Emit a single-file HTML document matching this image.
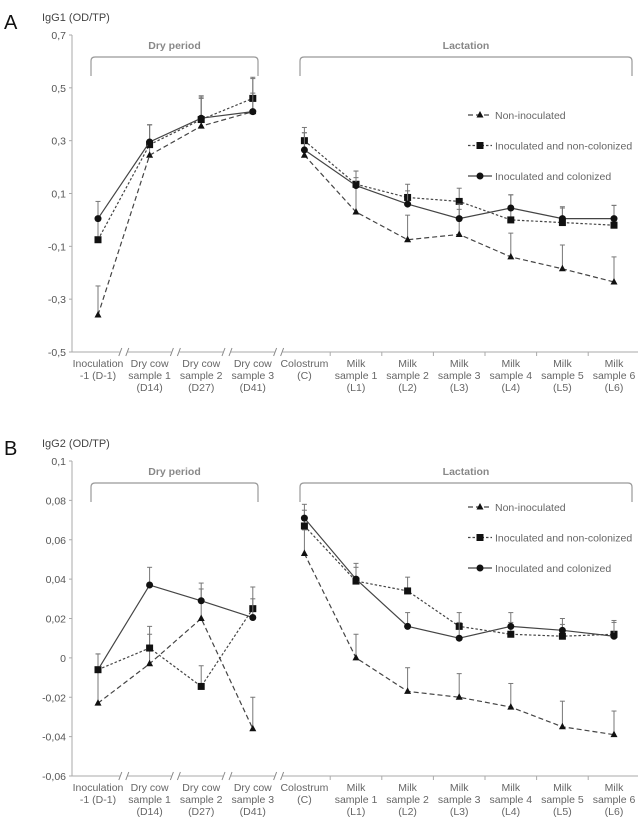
<!DOCTYPE html>
<html><head><meta charset="utf-8">
<style>
body{margin:0;background:#fff;}
svg{display:block;font-family:"Liberation Sans",sans-serif;}
</style></head>
<body>
<svg id="chart" width="644" height="822" viewBox="0 0 644 822"></svg>
<script>
const categories = [["Inoculation","-1 (D-1)"],["Dry cow","sample 1","(D14)"],["Dry cow","sample 2","(D27)"],["Dry cow","sample 3","(D41)"],["Colostrum","(C)"],["Milk","sample 1","(L1)"],["Milk","sample 2","(L2)"],["Milk","sample 3","(L3)"],["Milk","sample 4","(L4)"],["Milk","sample 5","(L5)"],["Milk","sample 6","(L6)"]];
const seriesNames = ["Non-inoculated","Inoculated and non-colonized","Inoculated and colonized"];
// Panel A (IgG1)
const aTicks = [0.7,0.5,0.3,0.1,-0.1,-0.3,-0.5];
const aTickLabels = ["0,7","0,5","0,3","0,1","-0,1","-0,3","-0,5"];
const aNonInoc = [-0.36,0.245,0.355,0.41,0.245,0.03,-0.075,-0.055,-0.14,-0.185,-0.235];
const aNonInocTop = [-0.25,0.36,0.46,0.535,0.33,0.185,0.018,0.04,-0.05,-0.095,-0.14];
const aNonCol = [-0.075,0.285,0.38,0.46,0.30,0.135,0.085,0.07,0.0,-0.01,-0.02];
const aNonColTop = [0.005,0.36,0.465,0.54,0.35,0.185,0.135,0.12,0.095,0.05,0.055];
const aCol = [0.005,0.295,0.385,0.41,0.265,0.13,0.06,0.005,0.045,0.005,0.005];
const aColTop = [0.07,0.36,0.47,0.48,0.33,0.16,0.11,0.06,0.095,0.045,0.055];
// Panel B (IgG2)
const bTicks = [0.1,0.08,0.06,0.04,0.02,0,-0.02,-0.04,-0.06];
const bTickLabels = ["0,1","0,08","0,06","0,04","0,02","0","-0,02","-0,04","-0,06"];
const bNonInoc = [-0.023,-0.003,0.02,-0.036,0.053,0.0,-0.017,-0.02,-0.025,-0.035,-0.039];
const bNonInocTop = [-0.006,0.012,0.035,-0.02,0.065,0.012,-0.005,-0.008,-0.013,-0.022,-0.027];
const bNonCol = [-0.006,0.005,-0.0145,0.025,0.067,0.039,0.034,0.016,0.012,0.011,0.012];
const bNonColTop = [0.002,0.016,-0.004,0.036,0.075,0.046,0.041,0.023,0.018,0.017,0.018];
const bCol = [-0.006,0.037,0.029,0.0205,0.071,0.040,0.016,0.010,0.016,0.014,0.011];
const bColTop = [0.002,0.046,0.038,0.030,0.078,0.048,0.023,0.018,0.023,0.020,0.019];

const NS="http://www.w3.org/2000/svg";
const svg=document.getElementById('chart');
function mk(tag,attrs,parent,text){const e=document.createElementNS(NS,tag);for(const k in attrs)e.setAttribute(k,attrs[k]);if(text!==undefined)e.textContent=text;(parent||svg).appendChild(e);return e;}

function xPos(i){return 98+i*51.6;}

function panel(cfg){
  const g=mk('g',{});
  
  
  const yMax=cfg.ticks[0], yMin=cfg.ticks[cfg.ticks.length-1];
  const y=v=>cfg.top+(yMax-v)/(yMax-yMin)*(cfg.bottom-cfg.top);
  let t=mk('text',{x:4,y:cfg.top-6,'font-size':20,fill:'#111'},g,cfg.letter);
  
  
  t=mk('text',{x:42,y:cfg.top-14,'font-size':11,fill:'#444'},g,cfg.title);
  
  
  mk('line',{x1:72,y1:cfg.top,x2:72,y2:cfg.bottom,stroke:'#aaa'},g);
  cfg.ticks.forEach((v,i)=>{
    mk('line',{x1:69,y1:y(v),x2:72,y2:y(v),stroke:'#aaa'},g);
    const l=mk('text',{x:66,y:y(v)+4,'font-size':10.5,fill:'#555','text-anchor':'end'},g,cfg.tickLabels[i]);
    
    
  });
  mk('line',{x1:72,y1:cfg.bottom,x2:638,y2:cfg.bottom,stroke:'#aaa'},g);
  for(let i=0;i<=10;i++){
    const bx=xPos(i)+25.8;
    if(i<4){
      mk('rect',{x:bx-4,y:cfg.bottom-4,width:8,height:8,fill:'#fff'},g);
      mk('line',{x1:bx-5,y1:cfg.bottom+4,x2:bx-2,y2:cfg.bottom-4,stroke:'#888'},g);
      mk('line',{x1:bx+2,y1:cfg.bottom+4,x2:bx+5,y2:cfg.bottom-4,stroke:'#888'},g);
    } else if(i<10){
      mk('line',{x1:bx,y1:cfg.bottom,x2:bx,y2:cfg.bottom+4,stroke:'#aaa'},g);
    }
  }
  categories.forEach((c,i)=>{
    c.forEach((s,j)=>{
      const l=mk('text',{x:xPos(i),y:cfg.bottom+15+j*12,'font-size':10.5,fill:'#666','text-anchor':'middle'},g,s);
      
      
    });
  });
  [[91,258,'Dry period'],[300,632,'Lactation']].forEach(b=>{
    const by=cfg.top+22;
    mk('path',{d:`M${b[0]} ${by+19} V${by+4} Q${b[0]} ${by} ${b[0]+4} ${by} H${b[1]-4} Q${b[1]} ${by} ${b[1]} ${by+4} V${by+19}`,fill:'none',stroke:'#999','stroke-width':1.2},g);
    const l=mk('text',{x:(b[0]+b[1])/2,y:by-8,'font-size':10.5,'font-weight':'bold',fill:'#888','text-anchor':'middle'},g,b[2]);
    
    
  });
  const styles=[{dash:'5,3',m:'tri'},{dash:'2.5,2',m:'sq'},{dash:'',m:'dot'}];
  function marker(kind,cx,cy,parent){
    if(kind==='tri')return mk('path',{d:`M${cx} ${cy-4} L${cx+3.5} ${cy+2.5} L${cx-3.5} ${cy+2.5}Z`,fill:'#111'},parent);
    if(kind==='sq')return mk('rect',{x:cx-3.5,y:cy-3.5,width:7,height:7,fill:'#111'},parent);
    return mk('circle',{cx:cx,cy:cy,r:3.5,fill:'#111'},parent);
  }
  cfg.series.forEach((s,si)=>{
    const st=styles[si];
    const sg=mk('g',{},g);
    
    
    s.vals.forEach((v,i)=>{
      const xx=xPos(i);
      mk('line',{x1:xx,y1:y(v),x2:xx,y2:y(s.tops[i]),stroke:'#777','stroke-width':1},sg);
      mk('line',{x1:xx-2.5,y1:y(s.tops[i]),x2:xx+2.5,y2:y(s.tops[i]),stroke:'#777','stroke-width':1},sg);
    });
    // dry period segment (0-3) and lactation segment (4-10), not connected
    const dry=s.vals.slice(0,4).map((v,i)=>xPos(i)+','+y(v)).join(' ');
    const lac=s.vals.slice(4).map((v,i)=>xPos(i+4)+','+y(v)).join(' ');
    mk('polyline',{points:dry,fill:'none',stroke:'#444','stroke-width':1.2,'stroke-dasharray':st.dash},sg);
    mk('polyline',{points:lac,fill:'none',stroke:'#444','stroke-width':1.2,'stroke-dasharray':st.dash},sg);
    s.vals.forEach((v,i)=>{
      const m=marker(st.m,xPos(i),y(v),sg);
      
      
    });
    const ly=cfg.legendY+si*30.5;
    const lg=mk('g',{},g);
    
    
    mk('line',{x1:468,y1:ly,x2:492,y2:ly,stroke:'#444','stroke-width':1.2,'stroke-dasharray':st.dash},lg);
    marker(st.m,480,ly,lg);
    mk('text',{x:495,y:ly+4,'font-size':10.5,fill:'#666'},lg,seriesNames[si]);
  });
}
panel({name:'panel-a-igg1',letter:'A',title:'IgG1 (OD/TP)',top:35,bottom:352,ticks:aTicks,tickLabels:aTickLabels,legendY:115,
  series:[{vals:aNonInoc,tops:aNonInocTop},{vals:aNonCol,tops:aNonColTop},{vals:aCol,tops:aColTop}]});
panel({name:'panel-b-igg2',letter:'B',title:'IgG2 (OD/TP)',top:461,bottom:776,ticks:bTicks,tickLabels:bTickLabels,legendY:507,
  series:[{vals:bNonInoc,tops:bNonInocTop},{vals:bNonCol,tops:bNonColTop},{vals:bCol,tops:bColTop}]});
</script>
</body></html>
